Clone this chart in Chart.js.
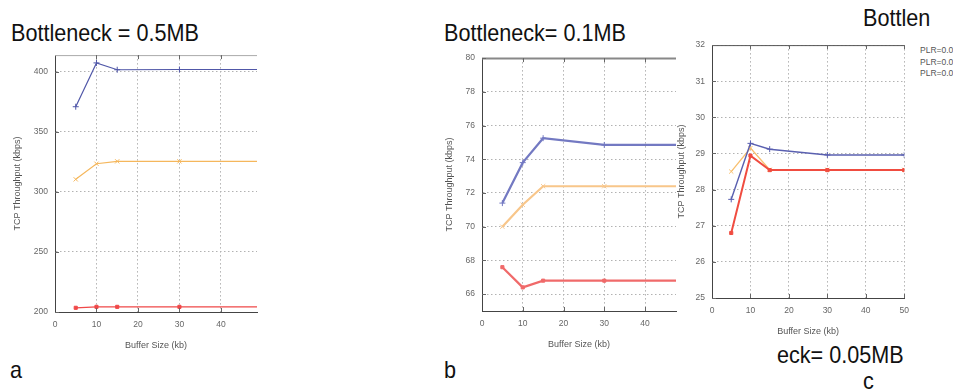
<!DOCTYPE html>
<html><head><meta charset="utf-8">
<script src="https://cdn.jsdelivr.net/npm/chart.js@4"></script>
<style>
html,body{margin:0;padding:0;background:#fff;width:953px;height:392px;overflow:hidden;position:relative;font-family:"Liberation Sans",Arial,sans-serif;}
canvas{position:absolute;}
.t{position:absolute;font-size:24px;color:#111;white-space:nowrap;line-height:1;transform:scaleX(0.9);transform-origin:0 0;}
.lg{position:absolute;font-size:8.5px;color:#555;white-space:nowrap;line-height:1;}
</style></head><body>
<div class="t" style="left:11px;top:20.7px">Bottleneck = 0.5MB</div>
<div class="t" style="left:444px;top:20.7px">Bottleneck= 0.1MB</div>
<div class="t" style="left:863px;top:5.7px">Bottlen</div>
<div class="t" style="left:777px;top:342.7px">eck= 0.05MB</div>
<div class="t" style="left:10px;top:357.7px">a</div>
<div class="t" style="left:444px;top:357.7px">b</div>
<div class="t" style="left:863px;top:368.7px">c</div>
<div class="lg" id="lg0" style="left:920px;top:46px"></div>
<div class="lg" id="lg1" style="left:920px;top:58px"></div>
<div class="lg" id="lg2" style="left:920px;top:69px"></div>
<canvas id="ca" width="267" height="317" style="left:0px;top:43px"></canvas>
<canvas id="cb" width="251" height="313" style="left:435px;top:46px"></canvas>
<canvas id="cc" width="247" height="309" style="left:670px;top:33px"></canvas>
<script>
// ---- data ----
const bufferSizes = [5, 10, 15, 30, 50];
const legendLabels = ['PLR=0.01', 'PLR=0.03', 'PLR=0.05'];

// chart a (Bottleneck = 0.5MB)
const aBlue   = [371, 407.5, 401.8, 402, 402];
const aOrange = [310.5, 323.5, 325.5, 325.5, 325.5];
const aRed    = [203.5, 204.3, 204.3, 204.3, 204.3];
const aXTicks = [0, 10, 20, 30, 40];
const aYTicks = [200, 250, 300, 350, 400];

// chart b (Bottleneck = 0.1MB)
const bBlue   = [71.4, 73.8, 75.25, 74.85, 74.85];
const bOrange = [70.0, 71.3, 72.4, 72.4, 72.4];
const bRed    = [67.6, 66.4, 66.8, 66.8, 66.8];
const bXTicks = [0, 10, 20, 30, 40];
const bYTicks = [66, 68, 70, 72, 74, 76, 78, 80];

// chart c (Bottleneck = 0.05MB)
const cBlue   = [27.73, 29.28, 29.12, 28.96, 28.96];
const cOrange = [28.5, 29.15, 28.55, 28.55, 28.55];
const cRed    = [26.8, 28.94, 28.54, 28.54, 28.54];
const cXTicks = [0, 10, 20, 30, 40, 50];
const cYTicks = [25, 26, 27, 28, 29, 30, 31, 32];

legendLabels.forEach((l, i) => document.getElementById('lg' + i).textContent = l);

const pts = arr => arr.map((v, i) => ({x: bufferSizes[i], y: v}));

const framePlugin = {
  id: 'frame',
  afterDraw(chart, args, opts) {
    const {ctx, chartArea: ca, scales: {x, y}} = chart;
    ctx.save();
    ctx.strokeStyle = opts.topColor || '#888';
    ctx.lineWidth = opts.topWidth || 1;
    ctx.beginPath();
    ctx.moveTo(ca.left, ca.top + 0.5); ctx.lineTo(ca.right, ca.top + 0.5);
    ctx.stroke();
    ctx.strokeStyle = '#666'; ctx.lineWidth = 1;
    ctx.beginPath();
    x.ticks.forEach(t => {
      const px = Math.round(x.getPixelForValue(t.value)) + 0.5;
      if (px <= ca.left + 1) return;
      ctx.moveTo(px, ca.bottom); ctx.lineTo(px, ca.bottom - 4);
      ctx.moveTo(px, ca.top); ctx.lineTo(px, ca.top + 4);
    });
    y.ticks.forEach(t => {
      const py = Math.round(y.getPixelForValue(t.value)) + 0.5;
      ctx.moveTo(ca.left, py); ctx.lineTo(ca.left + 4, py);
    });
    ctx.stroke();
    ctx.restore();
  }
};

const tickFont = {family: '"Liberation Sans", Arial, sans-serif', size: 8.5};
const titleFont = {family: '"Liberation Sans", Arial, sans-serif', size: 9};

function makeChart(id, c) {
  const ds = (data, color, style, r, bw) => ({
    data: pts(data), borderColor: color, backgroundColor: color, borderWidth: bw,
    pointStyle: style, pointRadius: r, pointBorderWidth: 1, pointBorderColor: color,
    pointBackgroundColor: color, tension: 0, fill: false
  });
  new Chart(document.getElementById(id), {
    type: 'line',
    data: {datasets: [
      ds(c.red, c.colors[2], 'rect', 2.2, c.bw[2]),
      ds(c.blue, c.colors[0], 'cross', 3, c.bw[0]),
      ds(c.orange, c.colors[1], 'crossRot', 3, c.bw[1])
    ]},
    plugins: [framePlugin],
    options: {
      responsive: false, animation: false, devicePixelRatio: 1,
      layout: {padding: {top: 10, right: 10, bottom: 0, left: 0}},
      plugins: {legend: {display: false}, tooltip: {enabled: false},
        frame: {topColor: c.topColor, topWidth: c.topWidth}},
      scales: {
        x: {
          type: 'linear', min: 0, max: c.xMax,
          afterBuildTicks: s => { s.ticks = c.xTicks.map(v => ({value: v})); },
          afterFit: s => { s.height = c.xH; },
          ticks: {font: tickFont, color: '#666', padding: 8, maxRotation: 0, autoSkip: false},
          grid: {color: '#b2b2b2', drawTicks: false, lineWidth: 1},
          border: {color: '#444', width: 1, dash: [1.5, 2.5]},
          title: {display: true, text: 'Buffer Size (kb)', font: titleFont, color: '#555',
            padding: {top: 0, bottom: c.xTitlePB}}
        },
        y: {
          min: c.yMin, max: c.yMax,
          afterBuildTicks: s => { s.ticks = c.yTicks.map(v => ({value: v})); },
          afterFit: s => { s.width = c.yW; },
          ticks: {font: tickFont, color: '#666', padding: 7, autoSkip: false},
          grid: {color: '#b2b2b2', drawTicks: false, lineWidth: 1},
          border: {color: '#444', width: 1, dash: [1.5, 2.5]},
          title: {display: true, text: 'TCP Throughput (kbps)', font: titleFont, color: '#555',
            padding: {top: c.yTitlePT, bottom: 0}}
        }
      }
    }
  });
}

makeChart('ca', {
  blue: aBlue, orange: aOrange, red: aRed, xTicks: aXTicks, yTicks: aYTicks,
  xMax: 48.7, yMin: 200, yMax: 414, yW: 55, xH: 48, xTitlePB: 9, yTitlePT: 12,
  colors: ['#5057a8', '#f5b75c', '#f04848'], bw: [1.2, 1.2, 1.2],
  topColor: '#aaa', topWidth: 1
});
makeChart('cb', {
  blue: bBlue, orange: bOrange, red: bRed, xTicks: bXTicks, yTicks: bYTicks,
  xMax: 47.6, yMin: 65, yMax: 80, yW: 47, xH: 48, xTitlePB: 8.6, yTitlePT: 9.6,
  colors: ['#7379c2', '#f8c68a', '#f06a6a'], bw: [2.2, 2.2, 2.2],
  topColor: '#888', topWidth: 2
});
makeChart('cc', {
  blue: cBlue, orange: cOrange, red: cRed, xTicks: cXTicks, yTicks: cYTicks,
  xMax: 50, yMin: 25, yMax: 32, yW: 42, xH: 44, xTitlePB: 4.6, yTitlePT: 6.6,
  colors: ['#5a60b0', '#f8c070', '#f04c40'], bw: [1.5, 1.3, 2],
  topColor: '#555', topWidth: 1
});
</script>
</body></html>
